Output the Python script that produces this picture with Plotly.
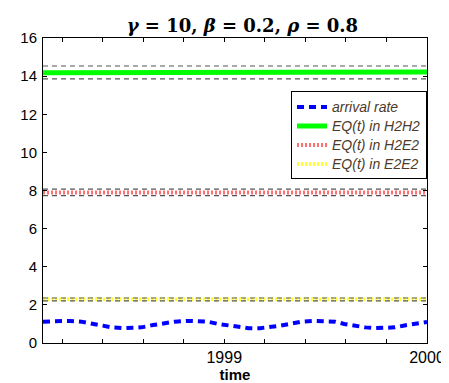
import plotly.graph_objects as go

# arrival rate
t_arrival = [1998.106, 1998.186, 1998.238, 1998.295, 1998.342, 1998.394, 1998.446, 1998.498,
             1998.545, 1998.592, 1998.648, 1998.696, 1998.757, 1998.814, 1998.870, 1998.917,
             1998.969, 1999.016, 1999.073, 1999.120, 1999.177, 1999.224, 1999.271, 1999.323,
             1999.380, 1999.436, 1999.488, 1999.545, 1999.592, 1999.639, 1999.696, 1999.743,
             1999.790, 1999.842, 1999.889, 1999.936, 1999.983, 2000.000]
arrival = [1.12, 1.16, 1.16, 1.12, 1.02, 0.94, 0.82, 0.78,
           0.78, 0.82, 0.94, 1.02, 1.12, 1.16, 1.16, 1.12,
           1.00, 0.92, 0.82, 0.78, 0.78, 0.82, 0.90, 1.00,
           1.12, 1.16, 1.16, 1.12, 1.00, 0.90, 0.82, 0.78,
           0.78, 0.82, 0.92, 1.00, 1.09, 1.10]

t_eq = [1998.106, 1999.568, 1999.568, 2000.000]
eq_h2h2 = [14.18, 14.18, 14.22, 14.22]
eq_h2e2 = [7.90, 7.90, 7.90, 7.90]
eq_e2e2 = [2.30, 2.30, 2.30, 2.30]

t_bound = [1998.106, 2000.000]
h2h2_upper = [14.53, 14.53]
h2h2_lower = [13.86, 13.86]
h2e2_upper = [8.07, 8.07]
h2e2_lower = [7.73, 7.73]
e2e2_upper = [2.36, 2.36]
e2e2_lower = [2.21, 2.21]

series_names = ["arrival rate", "EQ(t) in H2H2", "EQ(t) in H2E2", "EQ(t) in E2E2"]

x_tickvals = [1998.2, 1998.4, 1998.6, 1998.8, 1999.0, 1999.2, 1999.4, 1999.6, 1999.8, 2000.0]
x_ticktext = ["", "", "", "", "1999", "", "", "", "", "2000"]
y_tickvals = [0, 2, 4, 6, 8, 10, 12, 14, 16]

FONT = "Liberation Sans, Arial, sans-serif"


def leg(name):
    return '<span style="font-size:14px">' + name + '</span>'


fig = go.Figure()

fig.add_trace(go.Scatter(x=t_arrival, y=arrival, mode="lines", name=leg(series_names[0]),
                         line=dict(color="#0000ff", width=4, dash="7px,5px")))
fig.add_trace(go.Scatter(x=t_eq, y=eq_h2h2, mode="lines", name=leg(series_names[1]),
                         line=dict(color="#00ff00", width=5)))
fig.add_trace(go.Scatter(x=t_eq, y=eq_h2e2, mode="lines", name=leg(series_names[2]),
                         line=dict(color="#ff7070", width=4, dash="2px,2px")))
fig.add_trace(go.Scatter(x=t_eq, y=eq_e2e2, mode="lines", name=leg(series_names[3]),
                         line=dict(color="#ffff33", width=4, dash="2px,2px")))

for yb in [h2h2_upper, h2h2_lower, h2e2_upper, h2e2_lower, e2e2_upper, e2e2_lower]:
    fig.add_trace(go.Scatter(x=t_bound, y=yb, mode="lines", showlegend=False,
                             hoverinfo="skip",
                             line=dict(color="#555555", width=1.2, dash="5px,4px")))

fig.update_layout(
    width=449, height=383,
    margin=dict(l=30, r=18, t=30, b=39),
    paper_bgcolor="white", plot_bgcolor="white",
    font=dict(family=FONT, color="black", size=15),
    title=dict(text="<b><i>γ</i> = 10, <i>β</i> = 0.2, <i>ρ</i> = 0.8</b>",
               font=dict(family="DejaVu Serif, serif", size=18, color="black"),
               x=0.522, xanchor="center", y=1 - 18 / 383, yanchor="middle",
               yref="container", xref="container"),
    legend=dict(x=1, xanchor="right", y=1 - 55 / 314, yanchor="top",
                bgcolor="white", bordercolor="black", borderwidth=1,
                font=dict(family=FONT, size=12, color="#4d3b2a", style="italic"),
                itemwidth=30, tracegroupgap=0, traceorder="normal"),
    showlegend=True,
)

fig.update_xaxes(range=[1998.106, 2000.0], tickmode="array", tickvals=x_tickvals,
                 ticktext=x_ticktext, ticks="inside", ticklen=4, tickcolor="black",
                 showline=True, linecolor="black", linewidth=1, mirror="ticks",
                 showgrid=False, zeroline=False, tickfont=dict(size=16),
                 title=dict(text="<b>time</b>", font=dict(size=15), standoff=2))
fig.update_yaxes(range=[0, 16], tickmode="array", tickvals=y_tickvals,
                 ticks="inside", ticklen=4, tickcolor="black",
                 showline=True, linecolor="black", linewidth=1, mirror="ticks",
                 showgrid=False, zeroline=False, ticklabelstandoff=2)

fig.write_html("out.html")
